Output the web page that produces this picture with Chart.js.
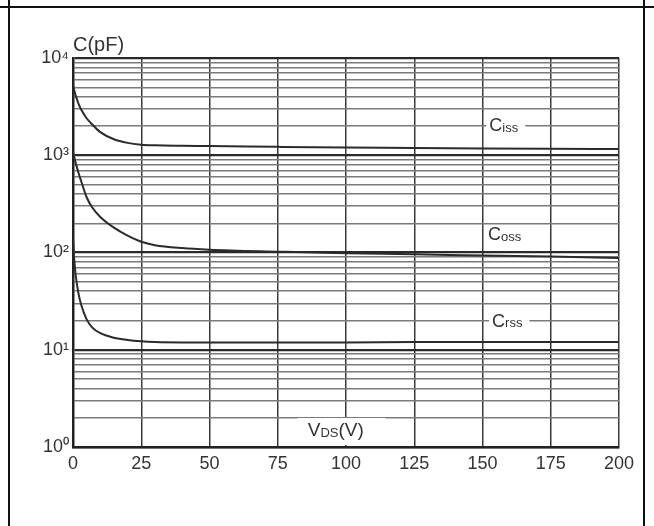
<!DOCTYPE html>
<html>
<head>
<meta charset="UTF-8">
<title>Capacitance vs VDS</title>
<script src="https://cdn.jsdelivr.net/npm/chart.js"></script>
<style>
    body { margin: 0; padding: 0; background: #fff; }
    .wrap { width: 654px; height: 526px; position: relative; }
</style>
</head>
<body>
<div class="wrap"><canvas id="capChart" width="654" height="526"></canvas></div>
<script>
    // V_DS sample points (V)
    const vds = [0, 0.5, 1, 2, 3, 5, 7, 10, 15, 20, 25, 30, 40, 50, 75, 100, 125, 150, 175, 200];
    // capacitances (pF)
    const ciss = [5300, 4600, 4100, 3400, 2950, 2400, 2080, 1730, 1460, 1340, 1285, 1265, 1252, 1245, 1220, 1200, 1190, 1175, 1165, 1160];
    const coss = [1080, 940, 830, 660, 540, 370, 292, 232, 180, 149, 129, 119, 111, 107, 102, 98, 96, 93, 91, 88];
    const crss = [140, 82, 58, 38, 29, 20.5, 17, 14.8, 13.3, 12.6, 12.2, 12, 11.9, 11.9, 11.9, 11.9, 12, 12, 12, 12];
    const seriesNames = ["Ciss", "Coss", "Crss"];

    const xTicks = [0, 25, 50, 75, 100, 125, 150, 175, 200];
    const yDecades = [1, 10, 100, 1000, 10000];
    const supers = ["\u2070", "\u00b9", "\u00b2", "\u00b3", "\u2074"];

    // minor log ticks 1..9 in each decade
    const yTicks = [];
    yDecades.forEach(function (d, i) {
        if (i === yDecades.length - 1) { yTicks.push(d); return; }
        for (let m = 1; m <= 9; m++) yTicks.push(d * m);
    });

    function pts(ys) {
        return vds.map(function (v, i) { return { x: v, y: ys[i] }; });
    }

    const FONT = "'Liberation Sans', Arial, sans-serif";

    const lineStyle = {
        borderColor: "#2b2b2b",
        borderWidth: 2,
        pointRadius: 0,
        fill: false,
        cubicInterpolationMode: "monotone"
    };

    const labelPos = [
        { v: 152.5, c: 2000 },
        { v: 152, c: 150 },
        { v: 153.5, c: 19.5 }
    ];

    const overlay = {
        id: "overlay",
        afterDatasetsDraw(chart) {
            const c = chart.ctx;
            const xs = chart.scales.x, ys = chart.scales.y;
            c.save();
            c.textBaseline = "middle";
            c.textAlign = "left";
            c.fillStyle = "#333";

            // curve labels with white boxes
            seriesNames.forEach(function (name, i) {
                const px = xs.getPixelForValue(labelPos[i].v);
                const py = ys.getPixelForValue(labelPos[i].c);
                const head = name.charAt(0), sub = name.slice(1);
                c.font = "18px " + FONT;
                const w1 = c.measureText(head).width;
                c.font = "13px " + FONT;
                const w2 = c.measureText(sub).width;
                c.fillStyle = "#fff";
                c.fillRect(px - 3, py - 10, w1 + w2 + 10, 20);
                c.fillStyle = "#333";
                c.font = "18px " + FONT;
                c.fillText(head, px, py);
                c.font = "13px " + FONT;
                c.fillText(sub, px + w1, py + 2);
            });

            // x-axis title inside plot
            const tx = xs.getPixelForValue(86), ty = chart.chartArea.bottom - 16;
            c.fillStyle = "#fff";
            c.fillRect(tx - 10, ty - 13, 88, 27);
            c.fillStyle = "#333";
            c.font = "19px " + FONT;
            c.fillText("V", tx, ty);
            let wx = tx + c.measureText("V").width;
            c.font = "13px " + FONT;
            c.fillText("DS", wx, ty + 2);
            wx += c.measureText("DS").width;
            c.font = "19px " + FONT;
            c.fillText("(V)", wx, ty);

            // y-axis title
            c.font = "20px " + FONT;
            c.fillText("C(pF)", chart.chartArea.left, chart.chartArea.top - 13);

            // outer table frame
            c.strokeStyle = "#111";
            c.lineWidth = 2;
            c.beginPath();
            c.moveTo(0, 7); c.lineTo(654, 7);
            c.moveTo(9, 0); c.lineTo(9, 526);
            c.moveTo(644, 0); c.lineTo(644, 526);
            c.stroke();
            c.restore();
        }
    };

    const ctx = document.getElementById("capChart").getContext("2d");
    new Chart(ctx, {
        type: "line",
        data: {
            datasets: [
                Object.assign({ label: seriesNames[0], data: pts(ciss) }, lineStyle),
                Object.assign({ label: seriesNames[1], data: pts(coss) }, lineStyle),
                Object.assign({ label: seriesNames[2], data: pts(crss) }, lineStyle)
            ]
        },
        options: {
            responsive: false,
            animation: false,
            layout: { padding: { left: 0, right: 35, top: 58, bottom: 49 } },
            plugins: { legend: { display: false }, tooltip: { enabled: false } },
            scales: {
                x: {
                    type: "linear",
                    min: 0,
                    max: 200,
                    afterBuildTicks: function (s) { s.ticks = xTicks.map(function (v) { return { value: v }; }); },
                    afterFit: function (s) { s.height = 30; },
                    ticks: {
                        autoSkip: false,
                        maxRotation: 0,
                        padding: 6,
                        color: "#333",
                        font: { family: FONT, size: 18 }
                    },
                    grid: { color: "#3a3a3a", lineWidth: 1.5, drawTicks: false },
                    border: { color: "#222", width: 2.5 }
                },
                y: {
                    type: "logarithmic",
                    min: 1,
                    max: 10000,
                    afterBuildTicks: function (s) { s.ticks = yTicks.map(function (v) { return { value: v }; }); },
                    afterFit: function (s) { s.width = 73; },
                    ticks: {
                        autoSkip: false,
                        padding: 4,
                        color: "#333",
                        font: { family: FONT, size: 18 },
                        callback: function (v) {
                            const i = yDecades.indexOf(v);
                            return i >= 0 ? "10" + supers[i] : "";
                        }
                    },
                    grid: {
                        drawTicks: false,
                        color: function (c) {
                            return yDecades.indexOf(c.tick.value) >= 0 ? "#2a2a2a" : "#7a7a7a";
                        },
                        lineWidth: function (c) {
                            return yDecades.indexOf(c.tick.value) >= 0 ? 2.2 : 1.4;
                        }
                    },
                    border: { color: "#222", width: 2.5 }
                }
            }
        },
        plugins: [overlay]
    });
</script>
</body>
</html>
